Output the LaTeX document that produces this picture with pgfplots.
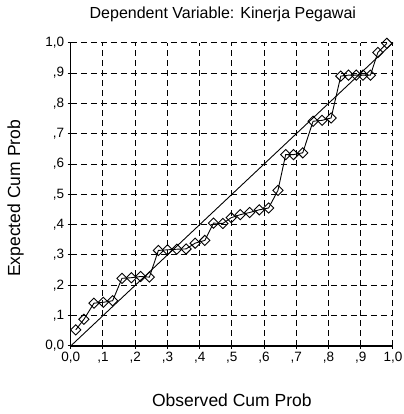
\documentclass[border=0pt]{standalone}
\usepackage{pgfplots}
\pgfplotsset{compat=1.18}
\usepackage{fontspec}
\setmainfont{Liberation Sans}

\pgfplotstableread{
x y
0.0155 0.053
0.041 0.088
0.072 0.141
0.101 0.144
0.130 0.149
0.159 0.223
0.188 0.225
0.217 0.229
0.244 0.227
0.272 0.315
0.300 0.317
0.329 0.319
0.358 0.320
0.386 0.339
0.416 0.348
0.443 0.405
0.472 0.404
0.498 0.423
0.526 0.433
0.555 0.440
0.585 0.449
0.614 0.455
0.643 0.513
0.667 0.631
0.691 0.631
0.720 0.637
0.752 0.741
0.780 0.744
0.808 0.752
0.838 0.890
0.862 0.893
0.886 0.893
0.907 0.893
0.930 0.893
0.953 0.968
0.981 0.998
}\pp

\begin{document}
\begin{tikzpicture}
\begin{axis}[
    scale only axis,
    width=322pt, height=303pt,
    xmin=0, xmax=1, ymin=0, ymax=1,
    axis lines=left,
    axis line style={line width=1.3pt, -},
    xtick={0,0.1,0.2,0.3,0.4,0.5,0.6,0.7,0.8,0.9,1},
    ytick={0,0.1,0.2,0.3,0.4,0.5,0.6,0.7,0.8,0.9,1},
    xticklabels={{0,0},{,1},{,2},{,3},{,4},{,5},{,6},{,7},{,8},{,9},{1,0}},
    yticklabels={{0,0},{,1},{,2},{,3},{,4},{,5},{,6},{,7},{,8},{,9},{1,0}},
    tick align=outside,
    major tick length=3pt,
    tick style={black, line width=1pt},
    ticklabel style={font=\fontsize{13.5}{15}\selectfont},
    grid=major,
    major grid style={black, line width=1pt, dash pattern=on 6pt off 4pt},
    title={Dependent Variable: Kinerja Pegawai},
    title style={font=\fontsize{16}{18}\selectfont, at={(axis description cs:0.5,1)}, anchor=center, yshift=22pt, xshift=-9pt},
    xlabel={Observed Cum Prob},
    xlabel style={font=\fontsize{17.5}{19}\selectfont, at={(axis description cs:0.5,0)}, anchor=center, yshift=-54pt},
    ylabel={Expected Cum Prob},
    ylabel style={font=\fontsize{17.5}{19}\selectfont, at={(axis description cs:0,0.5)}, anchor=center, yshift=55pt, xshift=-4pt},
    clip=false,
]
\addplot[black, line width=0.9pt, mark=none] coordinates {(0,0) (1,1)};
\addplot[black, line width=0.9pt, mark=square, mark size=3.6pt,
    mark options={rotate=45, fill=white, solid, line width=0.9pt}] table[x=x, y=y] {\pp};
\coordinate (o) at (rel axis cs:0,0);
\coordinate (t) at (rel axis cs:1,1);
\end{axis}
\pgfresetboundingbox
\path[use as bounding box] ([shift={(-70.7pt,-68pt)}]o) rectangle ([shift={(10.3pt,42.7pt)}]t);
\end{tikzpicture}
\end{document}
